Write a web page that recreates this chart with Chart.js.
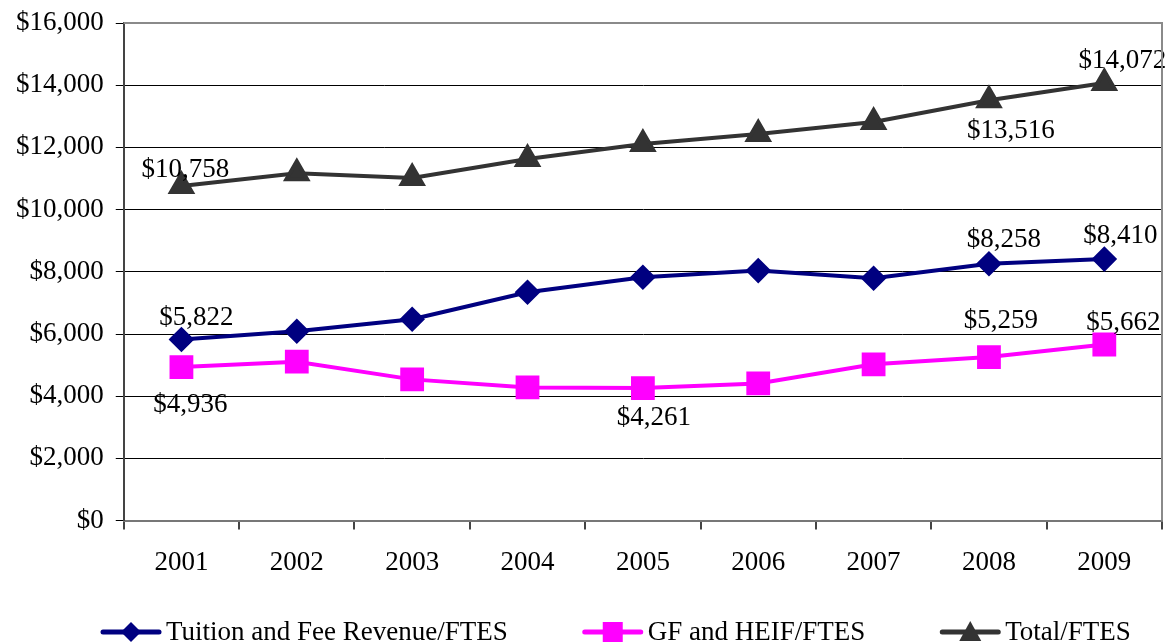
<!DOCTYPE html>
<html lang="en">
  <head>
    <meta charset="UTF-8" />
    <title>Revenue per FTES</title>
    <script src="https://cdn.jsdelivr.net/npm/chart.js"></script>
    <style>
      html,
      body {
        margin: 0;
        overflow: hidden;
        background: #fff;
      }
      #wrap {
        position: relative;
        width: 1170px;
        height: 644px;
      }
    </style>
  </head>
  <body>
    <div id="wrap"><canvas id="ftesChart"></canvas></div>

    <script>
      const years = ["2001", "2002", "2003", "2004", "2005", "2006", "2007", "2008", "2009"];
      const tuitionFees = [5822, 6087, 6473, 7343, 7826, 8040, 7794, 8258, 8410];
      const gfHeif = [4936, 5110, 4541, 4283, 4261, 4412, 5024, 5259, 5662];
      const totalFtes = [10758, 11170, 11014, 11626, 12109, 12431, 12818, 13516, 14072];

      // which points get a value label: [dataset, point, dx, dy]
      const labelSpots = [
        [0, 0, 15, -22], [0, 7, 15, -24], [0, 8, 16, -23],
        [1, 0, 9, 38], [1, 4, 11, 30], [1, 7, 12, -36], [1, 8, 19, -22],
        [2, 0, 4, -16], [2, 7, 22, 31], [2, 8, 18, -22],
      ];

      const serif = "'Liberation Serif', 'Times New Roman', serif";
      const fontSize = 27;
      const money = (v) => "$" + v.toLocaleString("en-US");

      function drawMarker(g, shape, x, y) {
        g.beginPath();
        if (shape === "diamond") {
          g.moveTo(x, y - 10); g.lineTo(x + 10, y); g.lineTo(x, y + 10); g.lineTo(x - 10, y);
        } else if (shape === "square") {
          g.rect(x - 10, y - 10, 20, 20);
        } else {
          g.moveTo(x, y - 11); g.lineTo(x + 11, y + 9); g.lineTo(x - 11, y + 9);
        }
        g.closePath();
        g.fill();
      }

      const shapes = ["diamond", "square", "triangle"];

      // legend drawn by hand: line + marker, then the name
      const bottomLegend = {
        id: "bottomLegend",
        afterDraw(chart) {
          const ctx = chart.ctx;
          const sets = chart.data.datasets;
          const icon = 62, gapText = 4, gapItem = 74, y = 632;
          ctx.save();
          ctx.font = fontSize + "px " + serif;
          const widths = sets.map((ds) => icon + gapText + ctx.measureText(ds.label).width);
          const total = widths.reduce((a, b) => a + b, 0) + gapItem * (sets.length - 1);
          let x = 100;
          sets.forEach((ds, i) => {
            ctx.strokeStyle = ds.borderColor;
            ctx.fillStyle = ds.borderColor;
            ctx.lineWidth = 5;
            ctx.lineCap = "round";
            ctx.beginPath();
            ctx.moveTo(x + 3, y);
            ctx.lineTo(x + icon - 3, y);
            ctx.stroke();
            drawMarker(ctx, shapes[i], x + icon / 2, y);
            ctx.fillStyle = "#000";
            ctx.textAlign = "left";
            ctx.textBaseline = "middle";
            ctx.fillText(ds.label, x + icon + gapText, y + 1);
            x += widths[i] + gapItem;
          });
          ctx.restore();
        },
      };

      const frame = {
        id: "frame",
        afterDraw(chart) {
          const { ctx, chartArea: a } = chart;
          ctx.save();
          ctx.strokeStyle = "#8a8a8a";
          ctx.lineWidth = 2;
          ctx.beginPath();
          ctx.moveTo(a.left, a.top);
          ctx.lineTo(a.right, a.top);
          ctx.lineTo(a.right, a.bottom);
          ctx.stroke();
          ctx.restore();
        },
      };

      const valueLabels = {
        id: "valueLabels",
        afterDatasetsDraw(chart) {
          const ctx = chart.ctx;
          ctx.save();
          ctx.font = fontSize + "px " + serif;
          ctx.fillStyle = "#000";
          ctx.textAlign = "center";
          ctx.textBaseline = "middle";
          labelSpots.forEach(([d, i, dx, dy]) => {
            const pt = chart.getDatasetMeta(d).data[i];
            const v = chart.data.datasets[d].data[i];
            ctx.fillText(money(v), pt.x + dx, pt.y + dy);
          });
          ctx.restore();
        },
      };

      new Chart(document.getElementById("ftesChart"), {
        type: "line",
        data: {
          labels: years,
          datasets: [
            {
              label: "Tuition and Fee Revenue/FTES",
              data: tuitionFees,
              borderColor: "#000080",
              backgroundColor: "#000080",
              borderWidth: 4,
              pointStyle: "rectRot",
              pointRadius: 10,
              pointHoverRadius: 10,
            },
            {
              label: "GF and HEIF/FTES",
              data: gfHeif,
              borderColor: "#ff00ff",
              backgroundColor: "#ff00ff",
              borderWidth: 4,
              pointStyle: "rect",
              pointRadius: 14,
              pointHoverRadius: 14,
            },
            {
              label: "Total/FTES",
              data: totalFtes,
              borderColor: "#333333",
              backgroundColor: "#333333",
              borderWidth: 4,
              pointStyle: "triangle",
              pointRadius: 12,
              pointHoverRadius: 12,
            },
          ],
        },
        options: {
          responsive: true,
          maintainAspectRatio: false,
          animation: false,
          layout: {
            autoPadding: false,
            padding: { top: 23, right: 8, left: 4, bottom: 48 },
          },
          scales: {
            x: {
              offset: true,
              afterFit: (s) => {
                s.paddingLeft = 0;
                s.paddingRight = 0;
              },
              grid: {
                offset: true,
                drawOnChartArea: false,
                drawTicks: true,
                tickLength: 9,
                color: "#444",
                lineWidth: 2,
              },
              border: { color: "#777", width: 2 },
              ticks: {
                color: "#000",
                padding: 17,
                font: { family: serif, size: fontSize },
              },
            },
            y: {
              min: 0,
              max: 16000,
              afterFit: (s) => {
                s.paddingTop = 0;
                s.paddingBottom = 0;
              },
              ticks: {
                stepSize: 2000,
                color: "#000",
                padding: 12,
                font: { family: serif, size: fontSize },
                callback: (v) => money(v),
              },
              grid: { color: "#000", lineWidth: 1, tickLength: 8 },
              border: { color: "#444", width: 2 },
            },
          },
          plugins: {
            tooltip: { enabled: false },
            legend: { display: false },
          },
        },
        plugins: [frame, valueLabels, bottomLegend],
      });
    </script>
  </body>
</html>
